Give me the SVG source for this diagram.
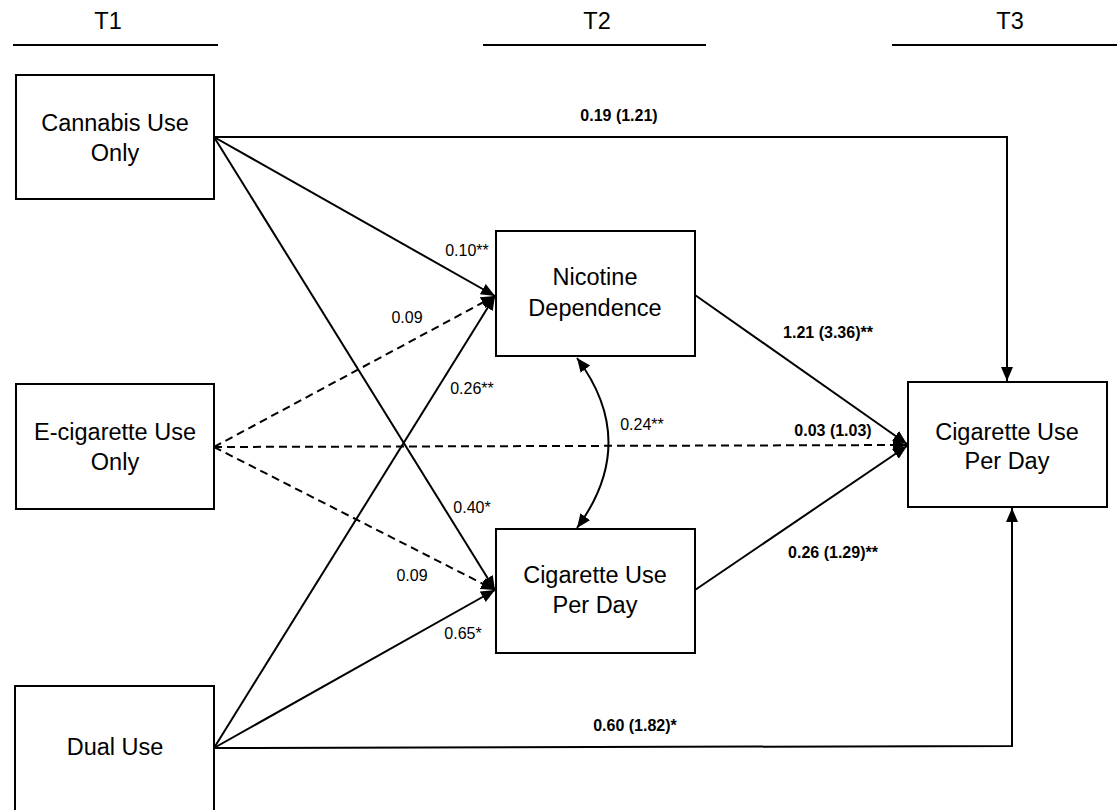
<svg xmlns="http://www.w3.org/2000/svg" width="1117" height="810" viewBox="0 0 1117 810">
<style>
.box{fill:#fff;stroke:#000;stroke-width:2}
.nt{font-family:"Liberation Sans",Arial,sans-serif;font-size:23.5px;text-anchor:middle;fill:#000}
.lb{font-family:"Liberation Sans",Arial,sans-serif;font-size:16px;text-anchor:middle;fill:#000}
.bl{font-weight:bold}
.ln{fill:none;stroke:#000;stroke-width:2}
.da{stroke-dasharray:8 5}
.hd{stroke:#000;stroke-width:2}
</style>
<defs>
<marker id="ah" markerUnits="userSpaceOnUse" markerWidth="16" markerHeight="14" refX="14" refY="7" orient="auto-start-reverse" viewBox="0 0 16 14">
<path d="M0,1 L14,7 L0,13 Z" fill="#000"/>
</marker>
</defs>
<g id="headers">
<text class="nt" x="108" y="29">T1</text>
<line class="hd" x1="13" y1="45" x2="218" y2="45"/>
<text class="nt" x="597" y="29">T2</text>
<line class="hd" x1="483" y1="45" x2="706" y2="45"/>
<text class="nt" x="1010" y="29">T3</text>
<line class="hd" x1="892" y1="45" x2="1117" y2="45"/>
</g>
<g id="connectors">
<path class="ln" d="M214,137 L1007,137 L1007,381" marker-end="url(#ah)"/>
<path class="ln" d="M214,748 L1012,746 L1012,508" marker-end="url(#ah)"/>
<path class="ln" d="M214,137 L495,296" marker-end="url(#ah)"/>
<path class="ln" d="M214,137 L495,590" marker-end="url(#ah)"/>
<path class="ln da" d="M214,447 L495,296" marker-end="url(#ah)"/>
<path class="ln da" d="M214,447 L495,590" marker-end="url(#ah)"/>
<path class="ln" d="M214,748 L495,296" marker-end="url(#ah)"/>
<path class="ln" d="M214,748 L495,590" marker-end="url(#ah)"/>
<path class="ln" d="M695,295 L907,444" marker-end="url(#ah)"/>
<path class="ln da" d="M214,447 L907,445" marker-end="url(#ah)"/>
<path class="ln" d="M695,590 L907,446" marker-end="url(#ah)"/>
<path class="ln" d="M577,358 Q640,442 577,528" marker-start="url(#ah)" marker-end="url(#ah)"/>
</g>
<g id="labels">
<text class="lb bl" x="619" y="121">0.19 (1.21)</text>
<text class="lb" x="467" y="256">0.10**</text>
<text class="lb" x="407" y="323">0.09</text>
<text class="lb" x="472" y="394">0.26**</text>
<text class="lb" x="642" y="430">0.24**</text>
<text class="lb" x="472" y="513">0.40*</text>
<text class="lb" x="412" y="581">0.09</text>
<text class="lb" x="463" y="639">0.65*</text>
<text class="lb bl" x="828" y="338">1.21 (3.36)**</text>
<text class="lb bl" x="833" y="436">0.03 (1.03)</text>
<text class="lb bl" x="833" y="558">0.26 (1.29)**</text>
<text class="lb bl" x="635" y="731">0.60 (1.82)*</text>
</g>
<g id="cannabis">
<rect class="box" x="16" y="75" width="198" height="124"/>
<text class="nt" x="115" y="131">Cannabis Use</text>
<text class="nt" x="115" y="161">Only</text>
</g>
<g id="ecig">
<rect class="box" x="16" y="384" width="198" height="125"/>
<text class="nt" x="115" y="440">E-cigarette Use</text>
<text class="nt" x="115" y="470">Only</text>
</g>
<g id="dual">
<rect class="box" x="15" y="686" width="199" height="130"/>
<text class="nt" x="115" y="755">Dual Use</text>
</g>
<g id="nicotine">
<rect class="box" x="496" y="231" width="199" height="125"/>
<text class="nt" x="595" y="285">Nicotine</text>
<text class="nt" x="595" y="316">Dependence</text>
</g>
<g id="cigmid">
<rect class="box" x="496" y="529" width="199" height="124"/>
<text class="nt" x="595" y="583">Cigarette Use</text>
<text class="nt" x="595" y="613">Per Day</text>
</g>
<g id="cigright">
<rect class="box" x="908" y="382" width="199" height="125"/>
<text class="nt" x="1007" y="440">Cigarette Use</text>
<text class="nt" x="1007" y="469">Per Day</text>
</g>
</svg>
